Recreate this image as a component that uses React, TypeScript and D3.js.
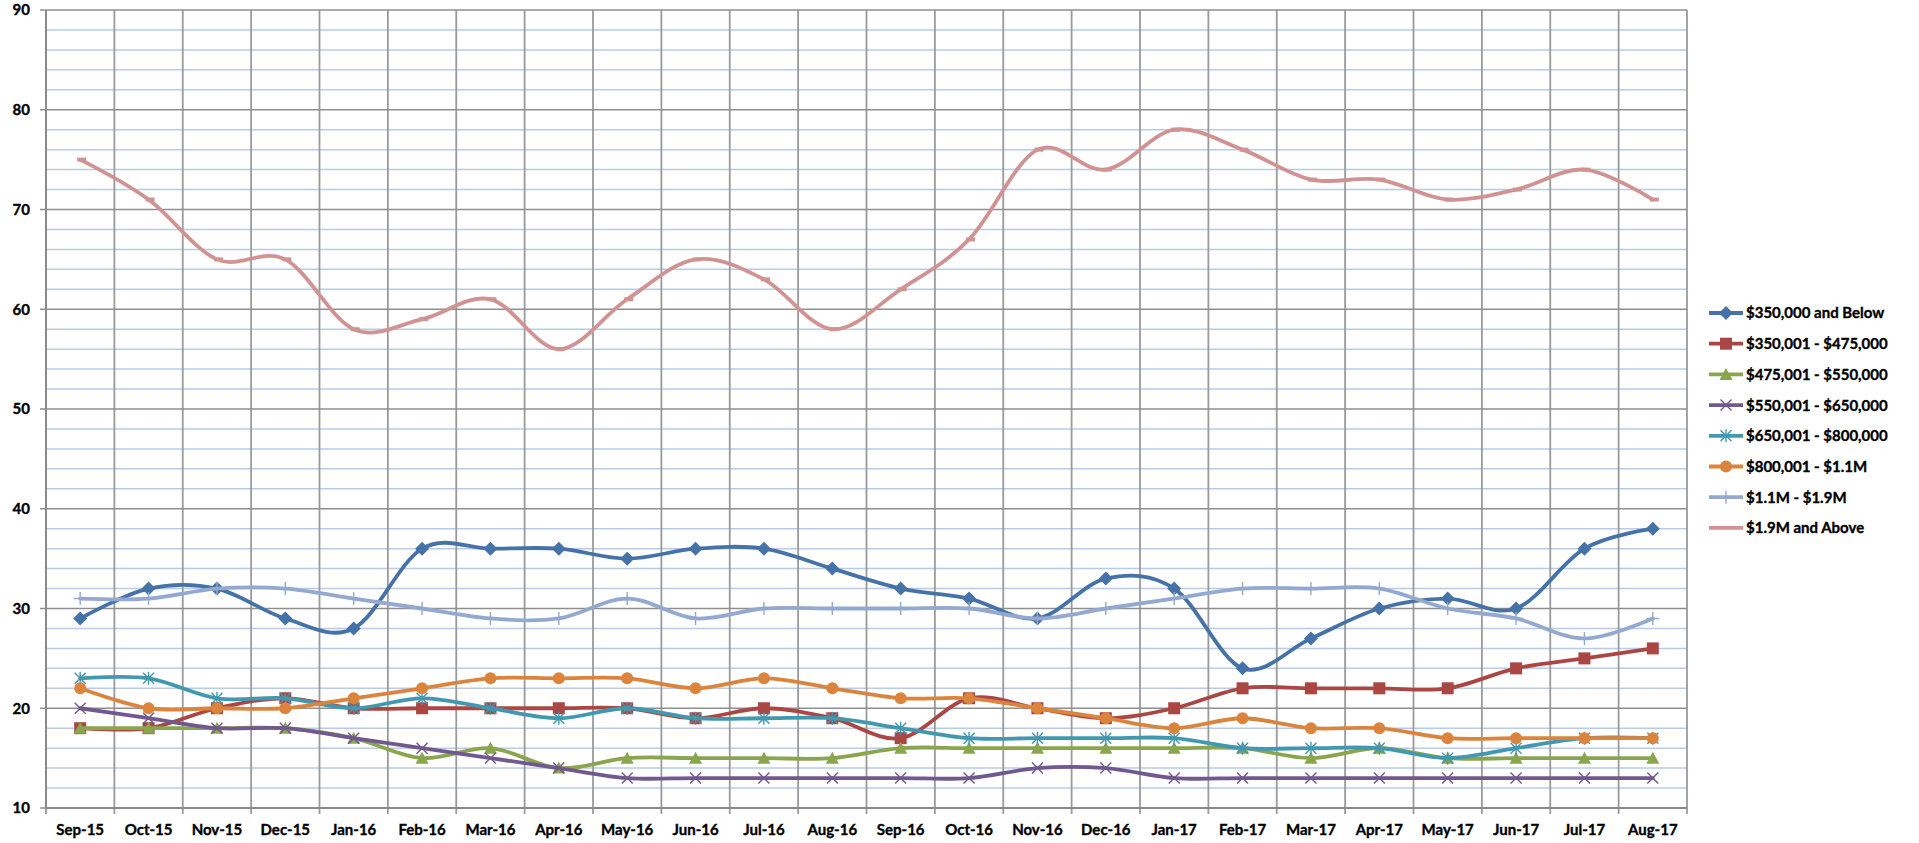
import * as d3 from "d3";

const months = ["Sep-15", "Oct-15", "Nov-15", "Dec-15", "Jan-16", "Feb-16", "Mar-16", "Apr-16", "May-16", "Jun-16", "Jul-16", "Aug-16",
  "Sep-16", "Oct-16", "Nov-16", "Dec-16", "Jan-17", "Feb-17", "Mar-17", "Apr-17", "May-17", "Jun-17", "Jul-17", "Aug-17"];

const below350 = [29, 32, 32, 29, 28, 36, 36, 36, 35, 36, 36, 34, 32, 31, 29, 33, 32, 24, 27, 30, 31, 30, 36, 38];
const r350to475 = [18, 18, 20, 21, 20, 20, 20, 20, 20, 19, 20, 19, 17, 21, 20, 19, 20, 22, 22, 22, 22, 24, 25, 26];
const r475to550 = [18, 18, 18, 18, 17, 15, 16, 14, 15, 15, 15, 15, 16, 16, 16, 16, 16, 16, 15, 16, 15, 15, 15, 15];
const r550to650 = [20, 19, 18, 18, 17, 16, 15, 14, 13, 13, 13, 13, 13, 13, 14, 14, 13, 13, 13, 13, 13, 13, 13, 13];
const r650to800 = [23, 23, 21, 21, 20, 21, 20, 19, 20, 19, 19, 19, 18, 17, 17, 17, 17, 16, 16, 16, 15, 16, 17, 17];
const r800to1100 = [22, 20, 20, 20, 21, 22, 23, 23, 23, 22, 23, 22, 21, 21, 20, 19, 18, 19, 18, 18, 17, 17, 17, 17];
const r1100to1900 = [31, 31, 32, 32, 31, 30, 29, 29, 31, 29, 30, 30, 30, 30, 29, 30, 31, 32, 32, 32, 30, 29, 27, 29];
const above1900 = [75, 71, 65, 65, 58, 59, 61, 56, 61, 65, 63, 58, 62, 67, 76, 74, 78, 76, 73, 73, 71, 72, 74, 71];

const yTicks = [10, 20, 30, 40, 50, 60, 70, 80, 90];

type Marker = "diamond" | "square" | "triangle" | "x" | "star" | "circle" | "plus" | "dash";

const series: { name: string; values: number[]; color: string; marker: Marker }[] = [
  { name: "$350,000 and Below", values: below350, color: "#4572a7", marker: "diamond" },
  { name: "$350,001 - $475,000", values: r350to475, color: "#aa4643", marker: "square" },
  { name: "$475,001 - $550,000", values: r475to550, color: "#89a54e", marker: "triangle" },
  { name: "$550,001 - $650,000", values: r550to650, color: "#71588f", marker: "x" },
  { name: "$650,001 - $800,000", values: r650to800, color: "#4198af", marker: "star" },
  { name: "$800,001 - $1.1M", values: r800to1100, color: "#db843d", marker: "circle" },
  { name: "$1.1M - $1.9M", values: r1100to1900, color: "#93a9cf", marker: "plus" },
  { name: "$1.9M and Above", values: above1900, color: "#d19392", marker: "dash" },
];

const W = 1919, H = 843;
const left = 46, right = 1687, top = 10, bottom = 808;
const font = "Lato, 'Liberation Sans', sans-serif";

function MarkerShape({ kind, x, y, color }: { kind: Marker; x: number; y: number; color: string }) {
  switch (kind) {
    case "diamond":
      return <path d={`M${x},${y - 7}L${x + 7},${y}L${x},${y + 7}L${x - 7},${y}Z`} fill={color} />;
    case "square":
      return <rect x={x - 6} y={y - 6} width={12} height={12} fill={color} />;
    case "triangle":
      return <path d={`M${x},${y - 6.5}L${x + 6.5},${y + 5.5}L${x - 6.5},${y + 5.5}Z`} fill={color} />;
    case "circle":
      return <circle cx={x} cy={y} r={6} fill={color} />;
    case "x":
      return <path d={`M${x - 5.5},${y - 5.5}L${x + 5.5},${y + 5.5}M${x - 5.5},${y + 5.5}L${x + 5.5},${y - 5.5}`} stroke={color} strokeWidth={1.4} />;
    case "star":
      return <path d={`M${x - 5.5},${y - 5.5}L${x + 5.5},${y + 5.5}M${x - 5.5},${y + 5.5}L${x + 5.5},${y - 5.5}M${x},${y - 6.5}L${x},${y + 6.5}`} stroke={color} strokeWidth={1.4} />;
    case "plus":
      return <path d={`M${x - 6.5},${y}L${x + 6.5},${y}M${x},${y - 6.5}L${x},${y + 6.5}`} stroke={color} strokeWidth={1.4} />;
    case "dash":
      return <rect x={x - 3} y={y - 2} width={9} height={4} fill={color} />;
  }
}

export default function App() {
  const x = d3.scaleBand<string>().domain(months).range([left, right]);
  const y = d3.scaleLinear().domain([10, 90]).range([bottom, top]);
  const cx = (m: string) => (x(m) ?? 0) + x.bandwidth() / 2;
  const line = d3.line<number>().x((_, i) => cx(months[i])).y(d => y(d)).curve(d3.curveCatmullRom.alpha(0));
  const minorTicks = d3.range(12, 90, 2).filter(v => v % 10 !== 0);
  const bounds = d3.range(months.length + 1).map(i => left + i * x.step());
  const heavy = { stroke: "#000", strokeWidth: 0.35 };

  return (
    <svg width={W} height={H} style={{ position: "absolute", left: 0, top: 0, background: "#fff" }} fontFamily={font}>
      {minorTicks.map(v => (
        <line key={"mn" + v} x1={left} x2={right} y1={y(v)} y2={y(v)} stroke="#b9cbe8" strokeWidth={1.5} />
      ))}
      {bounds.map((b, i) => (
        <line key={"vg" + i} x1={b} x2={b} y1={top} y2={bottom + 6} stroke="#9a9a9a" strokeWidth={1.8} />
      ))}
      {yTicks.map(v => (
        <line key={"mj" + v} x1={left - 6} x2={right} y1={y(v)} y2={y(v)} stroke="#8f8f8f" strokeWidth={1.6} />
      ))}
      <line x1={left} x2={left} y1={top} y2={bottom} stroke="#8a8a8a" strokeWidth={2} />
      <line x1={left} x2={right} y1={bottom} y2={bottom} stroke="#8a8a8a" strokeWidth={2.2} />
      {yTicks.map(v => (
        <text key={"yl" + v} x={30} y={y(v)} dy="0.36em" textAnchor="end" fontSize={15} fontWeight={700} fill="#000" {...heavy}>{v}</text>
      ))}
      {months.map(m => (
        <text key={"xl" + m} x={cx(m)} y={835} textAnchor="middle" fontSize={15} fontWeight={700} fill="#000" {...heavy}>{m}</text>
      ))}
      {series.map(s => (
        <g key={s.name}>
          <path d={line(s.values) ?? ""} fill="none" stroke={s.color} strokeWidth={3.8} strokeLinejoin="round" strokeLinecap="round" />
          {s.values.map((v, i) => (
            <MarkerShape key={i} kind={s.marker} x={cx(months[i])} y={y(v)} color={s.color} />
          ))}
        </g>
      ))}
      {series.map((s, i) => {
        const ly = 313 + i * 30.7;
        return (
          <g key={"lg" + s.name}>
            <line x1={1709} x2={1743} y1={ly} y2={ly} stroke={s.color} strokeWidth={3.8} />
            {s.marker !== "dash" && <MarkerShape kind={s.marker} x={1726} y={ly} color={s.color} />}
            <text x={1746} y={ly} dy="0.36em" fontSize={15} fontWeight={700} fill="#000" {...heavy}>{s.name}</text>
          </g>
        );
      })}
    </svg>
  );
}
